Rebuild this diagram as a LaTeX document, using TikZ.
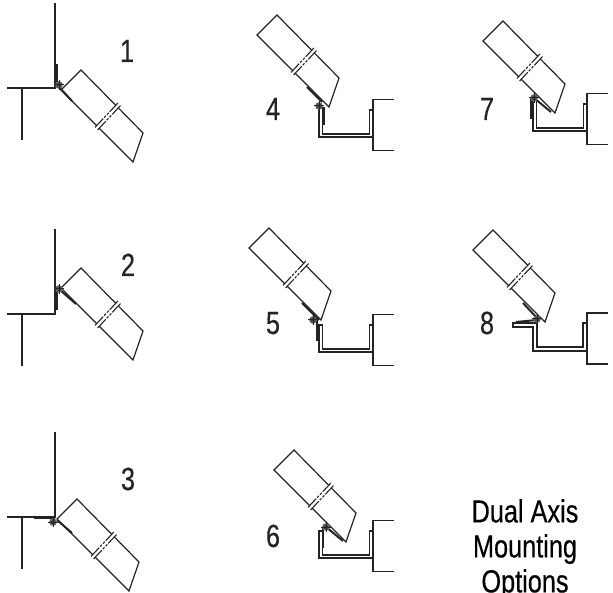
\documentclass[tikz,border=0pt]{standalone}
\usepackage{fontspec}
\setmainfont[FakeStretch=0.79,FakeBold=0.4]{Liberation Sans}
\definecolor{inkline}{HTML}{262324}
\tikzset{
	profile/.style={draw=inkline, line width=1.2pt, line join=miter},
	bracketline/.style={draw=inkline, line width=2pt},
	numlabel/.style={anchor=base, text=inkline, font=\fontsize{32}{35}\selectfont, inner sep=0pt},
	breakline/.style={draw=inkline, line width=1.1pt, dash pattern=on 12pt off 1.5pt on 2.5pt off 1.5pt on 2.5pt off 1.5pt on 12pt}
}
% collector, x y of its left corner
\newcommand{\panelbox}[2]{
	\begin{scope}[shift={(#1,#2)}]
		\draw[profile] (54.7,15.3)--(20,-20)--(0,0)--(35.7,35.7);
		\draw[profile] (57.3,17.9)--(82,43)--(72,72)--(38.3,38.3);
		\draw[breakline] (56.9,13)--(33.5,37.9);
		\draw[breakline] (59.5,15.6)--(36.1,40.5);
	\end{scope}
}
\newcommand{\pivot}[2]{
	\begin{scope}[shift={(#1,#2)}]
		\draw[inkline!70, fill=inkline!85, line width=1.2pt] (0,0) circle (3.2);
		\draw[inkline, line width=1pt] (-5,0)--(5,0);
		\draw[inkline, line width=1pt] (0,-5)--(0,5);
	\end{scope}
}
% wall with roof line, x y of the corner
\newcommand{\wallmount}[2]{
	\begin{scope}[shift={(#1,#2)}]
		\draw[profile] (0,-85)--(0,0)--(-48,0);
		\draw[profile] (-33,0)--(-33,52);
	\end{scope}
}
% channel on a block, x y of the lower left corner, height of the short leg
\newcommand{\channel}[3]{
	\begin{scope}[shift={(#1,#2)}]
		\draw[profile] (54,0)--(0,0)--(0,-#3)--(3.5,-#3)--(3.5,-3)--(50.5,-3)--(50.5,-27)--(54,-27);
		\draw[profile] (75,-37.5)--(54,-37.5)--(54,13.5)--(75,13.5);
	\end{scope}
}
\begin{document}
\begin{tikzpicture}[x=1pt,y=-1pt]
	\useasboundingbox (0,0) rectangle (613,593);

	% wall mounted
	\wallmount{55}{88}
	\panelbox{61}{90}
	\draw[bracketline] (56.5,64)--(56.5,87);
	\draw[bracketline] (60,88)--(72,101);
	\pivot{59}{85}
	\node[numlabel] (numa) at (127,62) {1};

	\wallmount{55}{314}
	\panelbox{61}{288}
	\draw[bracketline] (57,288)--(57,310);
	\draw[bracketline] (60,290)--(76,304);
	\pivot{59}{289}
	\node[numlabel] (numb) at (128,276) {2};

	\wallmount{55}{517}
	\panelbox{57}{519}
	\draw[bracketline] (34,518)--(55,518);
	\draw[bracketline] (57,520)--(72,533);
	\pivot{53}{522}
	\node[numlabel] (numc) at (128,490) {3};

	% channel mounted
	\channel{319}{137}{29}
	\panelbox{257}{35}
	\draw[bracketline] (324,107)--(324,125);
	\draw[bracketline] (307,87)--(322,102);
	\pivot{319}{106}
	\node[numlabel] (numd) at (273,120) {4};

	\channel{319}{352}{27}
	\panelbox{249}{248}
	\draw[bracketline] (317,320)--(317,341);
	\draw[bracketline] (302,303)--(319,320);
	\pivot{313}{320}
	\node[numlabel] (nume) at (273,334) {5};

	\channel{319}{558}{27}
	\panelbox{274}{470}
	\draw[bracketline] (323,527)--(323,548);
	\draw[bracketline] (326,527)--(343,541);
	\pivot{326}{527}
	\node[numlabel] (numf) at (273,547) {6};

	\channel{533}{131}{34}
	\panelbox{483}{41}
	\draw[bracketline] (531,97)--(531,119);
	\draw[bracketline] (534,98)--(551,112);
	\pivot{534}{98}
	\node[numlabel] (numg) at (487,120) {7};

	% flange turned outwards
	\draw[profile] (587,351)--(533,351)--(533,327)--(513,327)--(513,323)--(537,323)--(537,347)--(583,347)--(583,323)--(587,323);
	\draw[profile] (608,313)--(587,313)--(587,364)--(608,364);
	\panelbox{473}{250}
	\draw[bracketline] (516,322)--(537,320);
	\draw[bracketline] (523,303)--(537,318);
	\pivot{537}{319}
	\node[numlabel] (numh) at (487,334) {8};

	\node[numlabel, anchor=north, align=center, text=black] (title) at (525,499) {Dual Axis\\Mounting\\Options};
\end{tikzpicture}
\end{document}
